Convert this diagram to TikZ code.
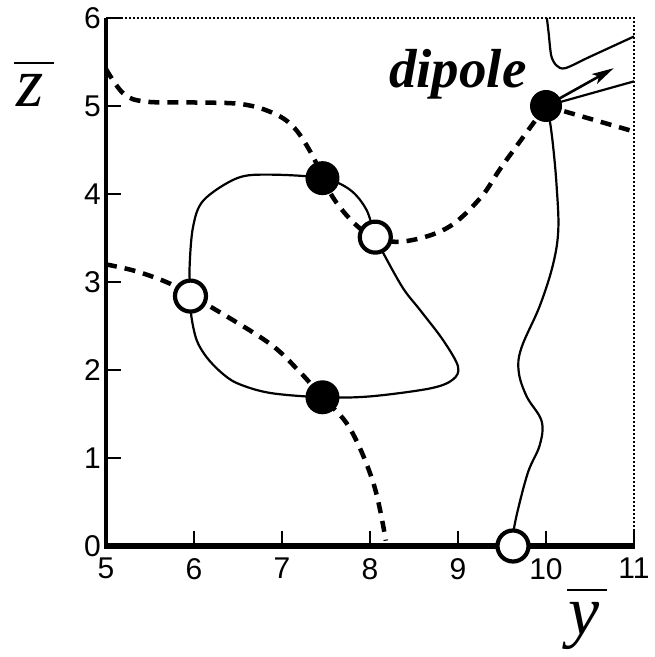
\documentclass[tikz,border=0pt]{standalone}
\usepackage{fontspec}
\setmainfont{Liberation Serif}
\newfontfamily\arialf{Liberation Sans}
\usetikzlibrary{arrows.meta}
\begin{document}
\begin{tikzpicture}[x=1pt,y=1pt,
  curve/.style={line width=2.2pt, line join=round},
  dashcurve/.style={line width=4.5pt, dash pattern=on 11pt off 8pt},
  framedot/.style={line width=1.5pt, dash pattern=on 2pt off 2pt},
  axisline/.style={line width=3.5pt},
  tickline/.style={line width=2.5pt},
  barline/.style={line width=2.8pt},
  filledpt/.style={circle, fill=black, minimum size=34pt, inner sep=0pt},
  openpt/.style={circle, draw=black, fill=white, line width=4.2pt, minimum size=31pt, inner sep=0pt},
  ticklab/.style={font=\arialf\fontsize{30}{30}\selectfont, inner sep=0pt},
  biglab/.style={font=\itshape\fontsize{70}{70}\selectfont, inner sep=0pt, anchor=base west}]
\useasboundingbox (0,0) rectangle (655,657);
\begin{scope}[x=88pt,y=88pt,shift={(-334pt,111pt)}]
  % point positions
  \coordinate (f1) at (7.46,4.18);
  \coordinate (f2) at (7.46,1.69);
  \coordinate (o1) at (8.06,3.51);
  \coordinate (o2) at (5.96,2.84);
  \coordinate (o3) at (9.625,0);
  \coordinate (dip) at (10,5);
  % frame
  \draw[framedot] (5.17,6) -- (11,6) -- (11,0.14);
  \draw[axisline] (5,-0.02) -- (5,6);
  \foreach \k in {1,...,6} \draw[tickline] (5,\k) -- ++(15pt,0);
  \foreach \k in {6,...,11} \draw[tickline] (\k,0) -- ++(0,15pt);
  \draw[line width=6.5pt] ([xshift=-1.75pt]5,0) -- ([xshift=1.25pt]11,0);
  % tick labels
  \foreach \k in {0,...,6} \node[ticklab, anchor=east] (yl\k) at ([xshift=-5pt]5,\k) {\k};
  \foreach \k in {5,...,11} \node[ticklab, anchor=north] (xl\k) at ([yshift=-12pt]\k,0) {\k};
  % closed loop
  \draw[curve] plot[smooth cycle, tension=0.55] coordinates {(f1) (6.86,4.22) (6.49,4.18) (6.11,3.93) (5.99,3.63) (5.95,3.17) (o2) (5.97,2.61) (6.03,2.34) (6.14,2.15) (6.30,1.98) (6.49,1.85) (6.86,1.74) (f2) (8.0,1.70) (8.68,1.79) (8.94,1.89) (9.0,2.04) (8.83,2.34) (8.57,2.68) (8.375,2.93) (8.15,3.33) (o1) (7.96,3.82) (7.77,4.05)};
  % dashed curves
  \draw[dashcurve] plot[smooth, tension=0.6] coordinates {(5,5.42) (5.2,5.14) (5.45,5.05) (6.0,5.04) (6.55,5.02) (6.92,4.91) (7.15,4.74) (7.35,4.43) (f1) (7.62,3.90) (7.85,3.64) (o1) (8.38,3.46) (8.87,3.61) (9.25,3.95) (9.51,4.33) (dip)};
  \draw[dashcurve] (dip) -- (11,4.71);
  \draw[dashcurve] plot[smooth, tension=0.6] coordinates {(5,3.20) (5.35,3.12) (5.73,2.98) (o2) (6.22,2.70) (6.86,2.30) (7.2,1.98) (f2) (7.77,1.34) (8.04,0.71) (8.18,0.06)};
  % vertical wavy line
  \draw[curve] plot[smooth, tension=0.6] coordinates {(o3) (9.63,0.16) (9.69,0.45) (9.80,0.85) (9.93,1.15) (9.95,1.42) (9.78,1.70) (9.69,1.98) (9.72,2.25) (9.93,2.73) (10.08,3.2) (10.14,3.6) (10.12,4.1) (10.08,4.55) (10.04,4.85) (dip)};
  % upper right curve
  \draw[curve] plot[smooth, tension=0.5] coordinates {(10.01,6) (10.03,5.83) (10.06,5.57) (10.12,5.46) (10.22,5.43) (10.5,5.56) (11,5.79)};
  \draw[curve] (dip) -- (11,5.28);
  \draw[curve, line width=2.6pt, -{Stealth[length=22pt,width=11pt,inset=5pt]}] (dip) -- (10.77,5.43);
  % points
  \node[filledpt] (F1) at (f1) {};
  \node[filledpt] (F2) at (f2) {};
  \node[filledpt, minimum size=32pt] (D) at (dip) {};
  \node[openpt] (O1) at (o1) {};
  \node[openpt] (O2) at (o2) {};
  \node[openpt] (O3) at (o3) {};
\end{scope}
\node[anchor=base west, inner sep=0pt, font=\bfseries\itshape\fontsize{55}{55}\selectfont] (diplab) at (389,569) {dipole};
\node[biglab] (zlab) at (16,550) {z};
\draw[barline] ([xshift=-2pt,yshift=44pt]zlab.base west) -- ++(40pt,0);
\node[biglab] (ylab) at (568,22) {y};
\draw[barline] ([xshift=-1pt,yshift=45pt]ylab.base west) -- ++(40pt,0);
\end{tikzpicture}
\end{document}
